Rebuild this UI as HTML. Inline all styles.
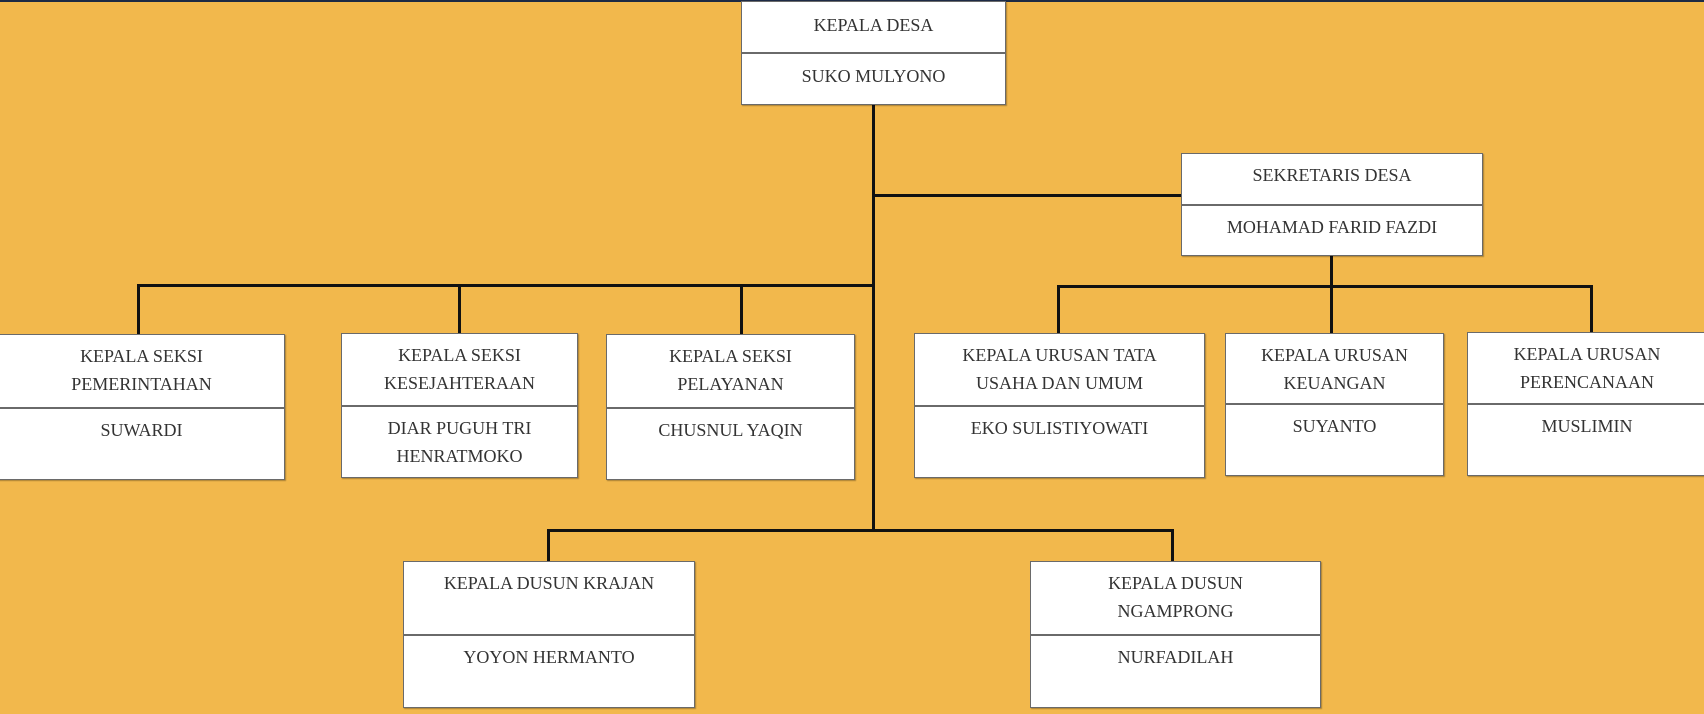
<!DOCTYPE html>
<html><head><meta charset="utf-8"><style>
html,body{margin:0;padding:0}
body{width:1704px;height:714px;position:relative;overflow:hidden;background:#F2B84C;font-family:"Liberation Serif",serif;}
.top{position:absolute;left:0;top:0;width:1704px;height:2px;background:#1d2a44}
.b{position:absolute;background:#fff;border:1.5px solid #6a6a6a;box-sizing:border-box;box-shadow:1px 1px 1px rgba(0,0,0,.3)}
.s{position:absolute;left:0;right:0;text-align:center;font-size:18px;line-height:28px;color:#333;padding-top:7px;box-sizing:border-box}
.d{position:absolute;left:0;right:0;height:2px;background:#6a6a6a}
.l{position:absolute;background:#111}
</style></head><body>
<div class="top"></div>
<!-- lines -->
<div class="l" style="left:872px;top:92px;width:3px;height:439px"></div>
<div class="l" style="left:872px;top:194px;width:310px;height:3px"></div>
<div class="l" style="left:137px;top:284px;width:738px;height:3px"></div>
<div class="l" style="left:137px;top:284px;width:3px;height:50px"></div>
<div class="l" style="left:458px;top:284px;width:3px;height:50px"></div>
<div class="l" style="left:740px;top:284px;width:3px;height:50px"></div>
<div class="l" style="left:1330px;top:248px;width:3px;height:86px"></div>
<div class="l" style="left:1057px;top:285px;width:536px;height:3px"></div>
<div class="l" style="left:1057px;top:285px;width:3px;height:49px"></div>
<div class="l" style="left:1590px;top:285px;width:3px;height:48px"></div>
<div class="l" style="left:547px;top:529px;width:627px;height:3px"></div>
<div class="l" style="left:547px;top:529px;width:3px;height:33px"></div>
<div class="l" style="left:1171px;top:529px;width:3px;height:33px"></div>

<div class="b" style="left:741px;top:1px;width:265px;height:104px">
<div class="s" style="top:2px">KEPALA DESA</div><div class="d" style="top:50px"></div><div class="s" style="top:53px">SUKO MULYONO</div></div>
<div class="b" style="left:1181px;top:153px;width:302px;height:103px">
<div class="s" style="top:0px">SEKRETARIS DESA</div><div class="d" style="top:50px"></div><div class="s" style="top:52px">MOHAMAD FARID FAZDI</div></div>

<div class="b" style="left:-2px;top:334px;width:287px;height:146px">
<div class="s" style="top:0">KEPALA SEKSI<br>PEMERINTAHAN</div><div class="d" style="top:72px"></div><div class="s" style="top:74px">SUWARDI</div></div>
<div class="b" style="left:341px;top:333px;width:237px;height:145px">
<div class="s" style="top:0">KEPALA SEKSI<br>KESEJAHTERAAN</div><div class="d" style="top:71px"></div><div class="s" style="top:73px">DIAR PUGUH TRI<br>HENRATMOKO</div></div>
<div class="b" style="left:606px;top:334px;width:249px;height:146px">
<div class="s" style="top:0">KEPALA SEKSI<br>PELAYANAN</div><div class="d" style="top:72px"></div><div class="s" style="top:74px">CHUSNUL YAQIN</div></div>
<div class="b" style="left:914px;top:333px;width:291px;height:145px">
<div class="s" style="top:0">KEPALA URUSAN TATA<br>USAHA DAN UMUM</div><div class="d" style="top:71px"></div><div class="s" style="top:73px">EKO SULISTIYOWATI</div></div>
<div class="b" style="left:1225px;top:333px;width:219px;height:143px">
<div class="s" style="top:0">KEPALA URUSAN<br>KEUANGAN</div><div class="d" style="top:69px"></div><div class="s" style="top:71px">SUYANTO</div></div>
<div class="b" style="left:1467px;top:332px;width:240px;height:144px">
<div class="s" style="top:0">KEPALA URUSAN<br>PERENCANAAN</div><div class="d" style="top:70px"></div><div class="s" style="top:72px">MUSLIMIN</div></div>

<div class="b" style="left:403px;top:561px;width:292px;height:147px">
<div class="s" style="top:0">KEPALA DUSUN KRAJAN</div><div class="d" style="top:72px"></div><div class="s" style="top:74px">YOYON HERMANTO</div></div>
<div class="b" style="left:1030px;top:561px;width:291px;height:147px">
<div class="s" style="top:0">KEPALA DUSUN<br>NGAMPRONG</div><div class="d" style="top:72px"></div><div class="s" style="top:74px">NURFADILAH</div></div>
</body></html>
